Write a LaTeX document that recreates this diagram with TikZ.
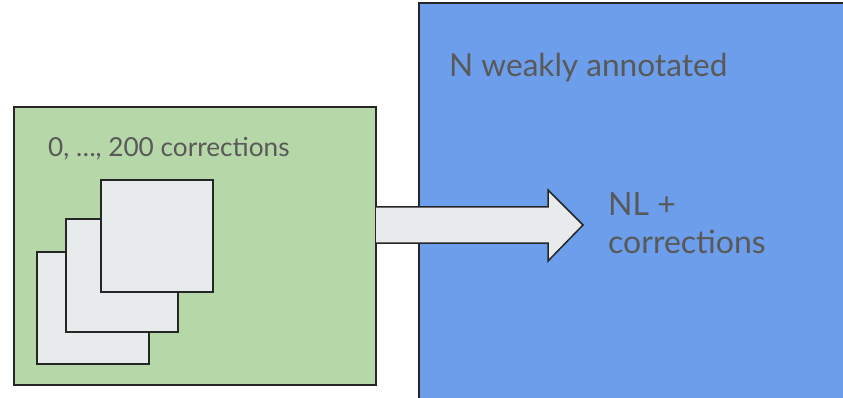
\documentclass[tikz,border=0pt]{standalone}
\usepackage{fontspec}
\setmainfont{Lato}
\definecolor{bgreen}{HTML}{B6D7A8}
\definecolor{bblue}{HTML}{6D9EEB}
\definecolor{cardgray}{HTML}{E8EBEC}
\definecolor{txtgray}{HTML}{595959}
\begin{document}
\begin{tikzpicture}[x=1pt,y=-1pt,
  boxline/.style={draw=black!85,line width=1.5pt},
  card/.style={boxline,fill=cardgray},
  lbl/.style={text=txtgray,inner sep=0pt,anchor=base west}]
\useasboundingbox (0,0) rectangle (843,398);
% blue box
\fill[bblue] (419,3) rectangle (846,401);
\draw[boxline] (419,401) -- (419,3) -- (846,3);
% green box
\draw[boxline,fill=bgreen] (14,107) rectangle (376,385);
% cards
\draw[card] (37,252) rectangle (149,364);
\draw[card] (66,219) rectangle (178,332);
\draw[card] (101,180) rectangle (213,292);
% block arrow
\draw[card,line join=miter] (376,207) -- (548,207) -- (548,190) -- (583,225) -- (548,261) -- (548,243) -- (376,243);
% texts
\node[lbl,font=\fontsize{26.2}{30}\selectfont] (corr) at (48,157) {0, …, 200 corrections};
\node[lbl,font=\fontsize{31.6}{38}\selectfont] (weak) at (449,77) {N weakly annotated};
\node[lbl,font=\fontsize{32}{38}\selectfont] (nl1) at (608,215) {NL +};
\node[lbl,font=\fontsize{32}{38}\selectfont] (nl2) at (608,253) {corrections};
\end{tikzpicture}
\end{document}
